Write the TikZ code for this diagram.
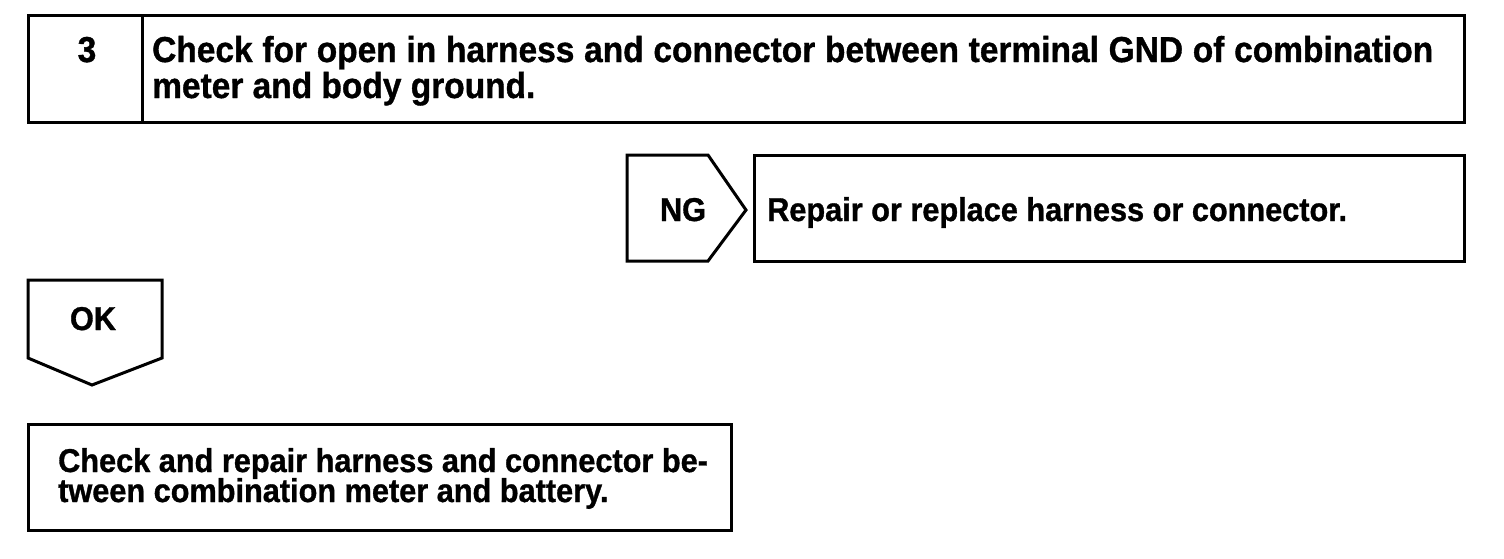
\documentclass[tikz,border=0pt]{standalone}
\usepackage{fontspec}
\newfontfamily\hv[FakeStretch=0.93,FakeBold=1]{Liberation Sans Bold}
\tikzset{
  frame/.style={draw=black, line width=3pt, line join=miter},
  txtbig/.style={font=\hv\fontsize{36}{36}\selectfont, inner sep=0pt, anchor=base west},
  txt/.style={font=\hv\fontsize{33}{33}\selectfont, inner sep=0pt, anchor=base west},
  ctxtbig/.style={font=\hv\fontsize{36}{36}\selectfont, inner sep=0pt, anchor=base},
  ctxt/.style={font=\hv\fontsize{33}{33}\selectfont, inner sep=0pt, anchor=base},
}
\begin{document}
\begin{tikzpicture}[x=1pt,y=-1pt]
\useasboundingbox (0,0) rectangle (1504,558);
% top box
\draw[frame] (28,15) rectangle (1464,122);
\draw[frame] (142,15) -- (142,122);
\node[ctxtbig] (num) at (87,62) {3};
\node[txtbig] (t1) at (152,62) {\makebox[1281pt][s]{Check for open in harness and connector between terminal GND of combination}};
\node[txtbig] (t2) at (152,98) {meter and body ground.};
% NG
\draw[frame] (627,155) -- (708,155) -- (746,210) -- (708,261) -- (627,261) -- cycle;
\node[ctxt] (ng) at (683,221) {NG};
\draw[frame] (754,155) rectangle (1464,261);
\node[txt] (rep) at (767,221) {Repair or replace harness or connector.};
% OK
\draw[frame] (28,280) -- (162,280) -- (162,358) -- (92,385) -- (28,358) -- cycle;
\node[ctxt] (ok) at (93,330) {OK};
% bottom box
\draw[frame] (28,424) rectangle (731,530);
\node[txt] (b1) at (58,472) {Check and repair harness and connector be-};
\node[txt] (b2) at (58,502) {tween combination meter and battery.};
\end{tikzpicture}
\end{document}
